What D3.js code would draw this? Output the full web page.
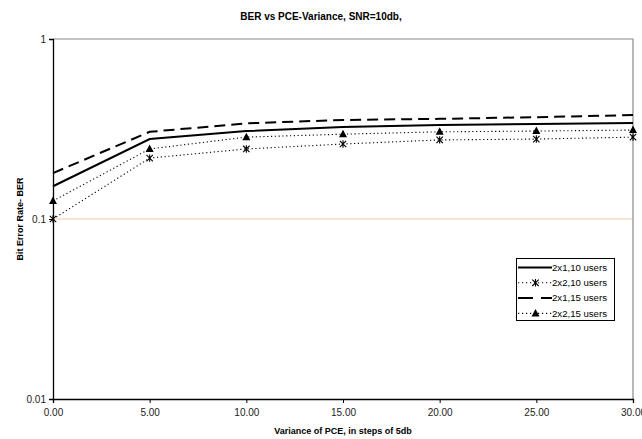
<!DOCTYPE html>
<html>
<head>
<meta charset="utf-8">
<script src="https://cdn.jsdelivr.net/npm/d3@7"></script>
<style>
  body { margin: 0; background: #fff; }
  text { font-family: "Liberation Sans", Arial, sans-serif; }
</style>
</head>
<body>
<div id="chart"></div>
<script>
// x values (variance of PCE, dB)
var variance = [0, 5, 10, 15, 20, 25, 30];
var xTicks = [0, 5, 10, 15, 20, 25, 30];
var yTicks = [0.01, 0.1, 1];

// BER values
var ber2x1_10 = [0.152, 0.278, 0.308, 0.324, 0.333, 0.337, 0.341];
var ber2x2_10 = [0.100, 0.218, 0.245, 0.261, 0.275, 0.278, 0.285];
var ber2x1_15 = [0.180, 0.305, 0.340, 0.355, 0.360, 0.368, 0.378];
var ber2x2_15 = [0.126, 0.245, 0.285, 0.296, 0.305, 0.308, 0.312];

var seriesNames = ["2x1,10 users", "2x2,10 users", "2x1,15 users", "2x2,15 users"];

var series = [
  { name: seriesNames[0], values: ber2x1_10, dash: null, width: 2, marker: null },
  { name: seriesNames[1], values: ber2x2_10, dash: "1.2,2.6", width: 1.1, marker: "star" },
  { name: seriesNames[2], values: ber2x1_15, dash: "11,6", width: 2, marker: null },
  { name: seriesNames[3], values: ber2x2_15, dash: "1.2,2.6", width: 1.1, marker: "tri" }
];

var W = 642, H = 439;
var margin = { top: 39, right: 9, bottom: 40, left: 53 };
var width = W - margin.left - margin.right,
    height = H - margin.top - margin.bottom;

var svg = d3.select("#chart").append("svg")
  .attr("width", W).attr("height", H);

var g = svg.append("g")
  .attr("transform", "translate(" + margin.left + "," + margin.top + ")");

var x = d3.scaleLinear().domain([0, 30]).range([0, width]);
var y = d3.scaleLog().domain([0.01, 1]).range([height, 0]);

// title
svg.append("text")
  .attr("x", 321).attr("y", 20)
  .attr("text-anchor", "middle")
  .style("font-size", "10px").style("font-weight", "bold")
  .text("BER vs PCE-Variance, SNR=10db,");

// gridline at 0.1 and plot border
g.append("line")
  .attr("x1", 0).attr("x2", width)
  .attr("y1", y(0.1)).attr("y2", y(0.1))
  .attr("stroke", "#f5c99c").attr("stroke-width", 1);

g.append("path")
  .attr("d", "M0," + y(1) + "H" + width + "V" + height)
  .attr("fill", "none").attr("stroke", "#8a8a8a").attr("stroke-width", 1.2);

// axes
var xAxis = g.append("g")
  .attr("transform", "translate(0," + height + ")")
  .call(d3.axisBottom(x).tickValues(xTicks).tickFormat(d3.format(".2f")).tickSize(4).tickPadding(6));

var yAxis = g.append("g")
  .call(d3.axisLeft(y).tickValues(yTicks).tickFormat(function(d) { return String(d); }).tickSize(4).tickPadding(3));

[xAxis, yAxis].forEach(function(a) {
  a.select(".domain").attr("stroke", "#000").attr("stroke-width", 1.3);
  a.selectAll(".tick line").attr("stroke", "#000");
  a.selectAll(".tick text").style("font-size", "10px").attr("fill", "#222")
    .style("font-family", "'Liberation Sans', Arial, sans-serif");
});
yAxis.selectAll(".tick text").attr("dy", "0.35em");

// axis titles
svg.append("text")
  .attr("x", margin.left + width / 2).attr("y", 434)
  .attr("text-anchor", "middle")
  .style("font-size", "9px").style("font-weight", "bold")
  .text("Variance of PCE, in steps of 5db");

svg.append("text")
  .attr("transform", "translate(23," + (margin.top + height / 2) + ") rotate(-90)")
  .attr("text-anchor", "middle")
  .style("font-size", "9px").style("font-weight", "bold")
  .text("Bit Error Rate- BER");

var line = d3.line()
  .x(function(d, i) { return x(variance[i]); })
  .y(function(d) { return y(d); });

function drawMarker(sel, type, px, py) {
  if (type === "tri") {
    sel.append("path")
      .attr("d", "M" + px + "," + (py - 4.5) + "L" + (px + 4) + "," + (py + 3) + "L" + (px - 4) + "," + (py + 3) + "Z")
      .attr("fill", "#000");
  } else if (type === "star") {
    var s = 3.2;
    sel.append("path")
      .attr("d", "M" + (px - s) + "," + (py - s) + "L" + (px + s) + "," + (py + s) +
                 "M" + (px + s) + "," + (py - s) + "L" + (px - s) + "," + (py + s) +
                 "M" + px + "," + (py - s - 0.5) + "L" + px + "," + (py + s + 0.5))
      .attr("stroke", "#000").attr("stroke-width", 1.1).attr("fill", "none");
  }
}

series.forEach(function(s) {
  g.append("path")
    .datum(s.values)
    .attr("d", line)
    .attr("fill", "none")
    .attr("stroke", "#000")
    .attr("stroke-width", s.width)
    .attr("stroke-dasharray", s.dash);
  if (s.marker) {
    var mg = g.append("g");
    s.values.forEach(function(v, i) {
      drawMarker(mg, s.marker, x(variance[i]), y(v));
    });
  }
});

// legend
var lg = svg.append("g").attr("transform", "translate(516,258)");
lg.append("rect")
  .attr("x", 0.5).attr("y", 0.5).attr("width", 98).attr("height", 62)
  .attr("fill", "#fff").attr("stroke", "#000").attr("stroke-width", 1);

series.forEach(function(s, i) {
  var yy = 9.5 + i * 15.3;
  lg.append("line")
    .attr("x1", 2).attr("x2", 36).attr("y1", yy).attr("y2", yy)
    .attr("stroke", "#000").attr("stroke-width", s.width)
    .attr("stroke-dasharray", s.dash ? (s.marker ? "1.2,2.8" : "15,8") : null);
  if (s.marker) drawMarker(lg, s.marker, 19.5, yy);
  lg.append("text")
    .attr("x", 36).attr("y", yy).attr("dy", "0.35em")
    .style("font-size", "9.6px")
    .text(s.name);
});
</script>
</body>
</html>
